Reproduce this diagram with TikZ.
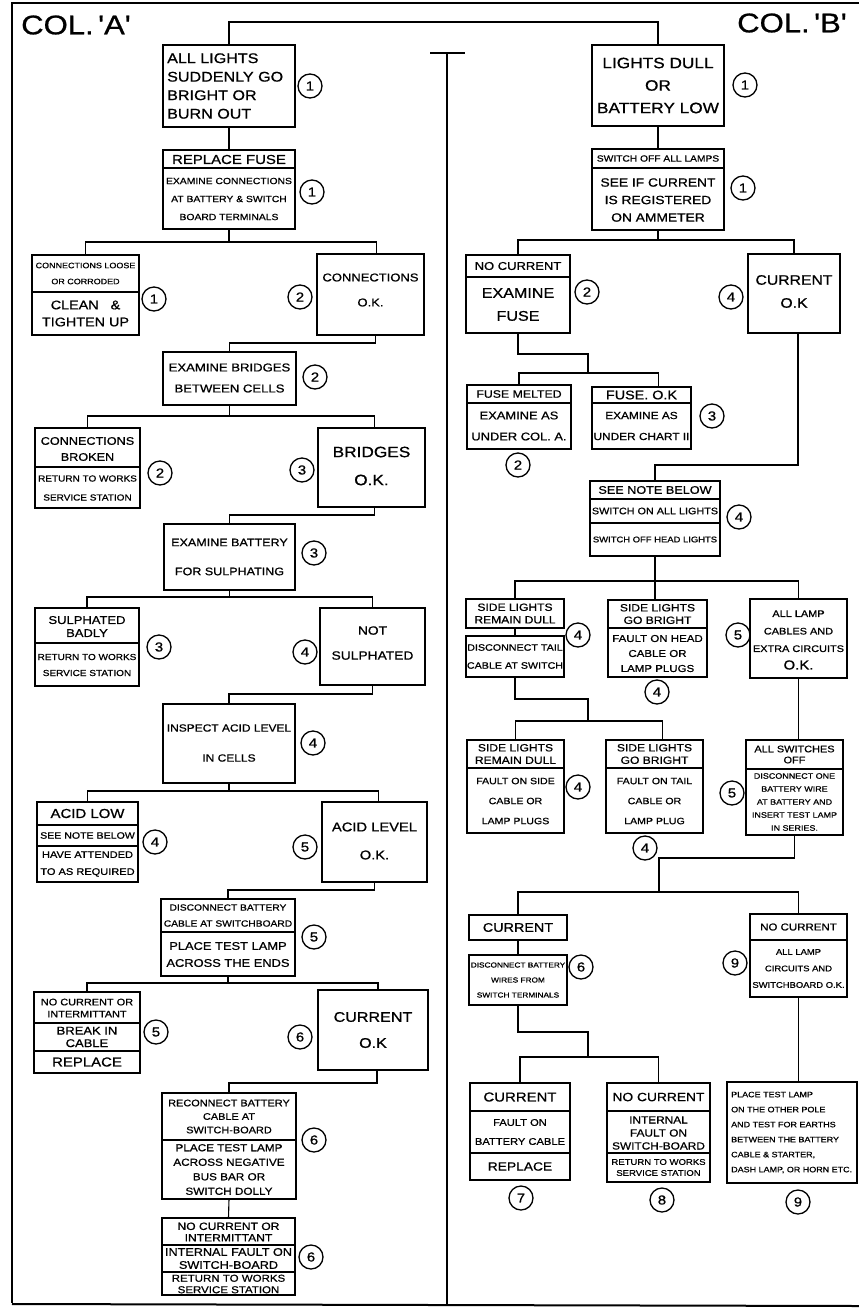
\documentclass[tikz,border=0pt]{standalone}
\usepackage{fontspec}
\newfontfamily\hand[FakeStretch=1.15,FakeBold=0.8]{Liberation Sans}
\usetikzlibrary{calc}
\newcommand\hf[2]{\hand\fontsize{#1}{#2}\selectfont}
\newcommand\mkbox[5]{\node[boxst, minimum width={#4-#2}, minimum height={#5-#3}] (#1) at ({(#2+#4)/2},{(#3+#5)/2}) {};}
\newcommand\divl[2]{\draw[divst] (#1.west |- 0,#2) -- (#1.east |- 0,#2);}
\begin{document}
\begin{tikzpicture}[x=1pt,y=-1pt,
 boxst/.style={draw, line width=1.5pt, inner sep=0pt, outer sep=0pt},
 divst/.style={line width=1.2pt},
 conn/.style={line width=1.1pt},
 frame/.style={line width=2pt},
 txt/.style={inner sep=0pt, align=center},
 txl/.style={inner sep=0pt, align=left, anchor=west},
 num/.style={draw, circle, line width=1.3pt, minimum size=24pt, inner sep=0pt, font=\hf{13}{13}}]
\fill[white] (0,0) rectangle (859,1312);
\useasboundingbox (0,0) rectangle (859,1312);

% frame
\draw[frame] (12,1303) -- (12,3) -- (859,3);
\draw[frame] (12,1304) -- (859,1306);
\draw[frame] (447,1304) -- (447,53);
\draw[frame] (430,53) -- (465,53);

\node[txt, font=\hf{27}{27}] (colA) at (76,25) {COL.\,'A'};
\node[txt, font=\hf{27}{27}] (colB) at (792,23) {COL.\,'B'};

% ---------- column A ----------
\mkbox{a1}{163}{45}{295}{127}
\node[txl, font=\hf{14}{18.5}] (a1t) at (167,86) {ALL LIGHTS\\SUDDENLY GO\\BRIGHT OR\\BURN OUT};
\node[num] (n1) at (310,86) {1};

\mkbox{a2}{163}{150}{295}{229} \divl{a2}{168}
\node[txt, font=\hf{13}{13}] (a2t1) at (229,159.5) {REPLACE FUSE};
\node[txt, font=\hf{9}{18}] (a2t2) at (229,199) {EXAMINE CONNECTIONS\\AT BATTERY \& SWITCH\\BOARD TERMINALS};
\node[num] (n2) at (312,192) {1};

\mkbox{a3l}{32}{255}{139}{335} \divl{a3l}{292}
\node[txt, font=\hf{7.8}{16}] (a3lt1) at (85.5,273.5) {CONNECTIONS LOOSE\\OR CORRODED};
\node[txt, font=\hf{12.5}{17}] (a3lt2) at (85.5,313.5) {CLEAN \ \ \&\\TIGHTEN UP};
\node[num] (n3) at (154,299) {1};

\mkbox{a3r}{317}{254}{424}{335}
\node[txt, font=\hf{11.3}{25}] (a3rt) at (370.5,290) {CONNECTIONS\\O.K.};
\node[num] (n4) at (300,297) {2};

\mkbox{a4}{163}{352}{296}{405}
\node[txt, font=\hf{11.4}{21}] (a4t) at (229.5,378) {EXAMINE BRIDGES\\BETWEEN CELLS};
\node[num] (n5) at (315,377) {2};

\mkbox{a5l}{35}{428}{140}{508} \divl{a5l}{467}
\node[txt, font=\hf{11}{16}] (a5lt1) at (87.5,449) {CONNECTIONS\\BROKEN};
\node[txt, font=\hf{8.7}{19}] (a5lt2) at (87.5,488) {RETURN TO WORKS\\SERVICE STATION};
\node[num] (n6) at (160,473) {2};

\mkbox{a5r}{318}{428}{425}{507}
\node[txt, font=\hf{15}{28}] (a5rt) at (371.5,466) {BRIDGES\\O.K.};
\node[num] (n7) at (302,470) {3};

\mkbox{a6}{164}{524}{295}{590}
\node[txt, font=\hf{10.9}{29}] (a6t) at (229.5,557) {EXAMINE BATTERY\\FOR SULPHATING};
\node[num] (n8) at (314,553) {3};

\mkbox{a7l}{35}{608}{139}{686} \divl{a7l}{643}
\node[txt, font=\hf{11.3}{13}] (a7lt1) at (87,626.5) {SULPHATED\\BADLY};
\node[txt, font=\hf{8.7}{16}] (a7lt2) at (87,665) {RETURN TO WORKS\\SERVICE STATION};
\node[num] (n9) at (159,647) {3};

\mkbox{a7r}{320}{608}{425}{685}
\node[txt, font=\hf{12}{25}] (a7rt) at (372.5,643) {NOT\\SULPHATED};
\node[num] (n10) at (305,652) {4};

\mkbox{a8}{163}{704}{295}{783}
\node[txt, font=\hf{10.4}{30}] (a8t) at (229,743) {INSPECT ACID LEVEL\\IN CELLS};
\node[num] (n11) at (313,743) {4};

\mkbox{a9l}{37}{802}{138}{882} \divl{a9l}{825} \divl{a9l}{846}
\node[txt, font=\hf{13}{13}] (a9lt1) at (87.5,813.5) {ACID LOW};
\node[txt, font=\hf{9.2}{10}] (a9lt2) at (87.5,835.5) {SEE NOTE BELOW};
\node[txt, font=\hf{9.6}{17}] (a9lt3) at (87.5,864) {HAVE ATTENDED\\TO AS REQUIRED};
\node[num] (n12) at (155,842) {4};

\mkbox{a9r}{322}{802}{427}{882}
\node[txt, font=\hf{12.8}{28}] (a9rt) at (374.5,841) {ACID LEVEL\\O.K.};
\node[num] (n13) at (305,847) {5};

\mkbox{a10}{161}{899}{295}{976} \divl{a10}{932}
\node[txt, font=\hf{8.9}{16}] (a10t1) at (228,915.5) {DISCONNECT BATTERY\\CABLE AT SWITCHBOARD};
\node[txt, font=\hf{11.2}{17}] (a10t2) at (228,954.5) {PLACE TEST LAMP\\ACROSS THE ENDS};
\node[num] (n14) at (314,937) {5};

\mkbox{a11l}{34}{992}{140}{1073} \divl{a11l}{1023} \divl{a11l}{1051}
\node[txt, font=\hf{9.5}{12}] (a11lt1) at (87,1008) {NO CURRENT OR\\INTERMITTANT};
\node[txt, font=\hf{11.3}{12.5}] (a11lt2) at (87,1037) {BREAK IN\\CABLE};
\node[txt, font=\hf{13}{13}] (a11lt3) at (87,1062) {REPLACE};
\node[num] (n15) at (156,1032) {5};

\mkbox{a11r}{318}{990}{428}{1070}
\node[txt, font=\hf{14}{26}] (a11rt) at (373,1030) {CURRENT\\O.K};
\node[num] (n16) at (300,1037) {6};

\mkbox{a12}{162}{1093}{296}{1199} \divl{a12}{1140}
\node[txt, font=\hf{9.5}{13.5}] (a12t1) at (229,1116.5) {RECONNECT BATTERY\\CABLE AT\\SWITCH-BOARD};
\node[txt, font=\hf{10.2}{14.5}] (a12t2) at (229,1169.5) {PLACE TEST LAMP\\ACROSS NEGATIVE\\BUS BAR OR\\SWITCH DOLLY};
\node[num] (n17) at (314,1140) {6};

\mkbox{a13}{162}{1218}{295}{1295} \divl{a13}{1245} \divl{a13}{1272}
\node[txt, font=\hf{10.5}{11.5}] (a13t1) at (228.5,1232) {NO CURRENT OR\\INTERMITTANT};
\node[txt, font=\hf{11}{13}] (a13t2) at (228.5,1258.5) {INTERNAL FAULT ON\\SWITCH-BOARD};
\node[txt, font=\hf{10}{11.5}] (a13t3) at (228.5,1284) {RETURN TO WORKS\\SERVICE STATION};
\node[num] (n18) at (311,1257) {6};

% ---------- column B ----------
\mkbox{b1}{592}{45}{724}{126}
\node[txt, font=\hf{15}{22.5}] (b1t) at (658,85.5) {LIGHTS DULL\\OR\\BATTERY LOW};
\node[num] (n19) at (745,85) {1};

\mkbox{b2}{592}{149}{724}{230} \divl{b2}{168}
\node[txt, font=\hf{8.9}{9}] (b2t1) at (658,158.5) {SWITCH OFF ALL LAMPS};
\node[txt, font=\hf{12}{17.5}] (b2t2) at (658,200) {SEE IF CURRENT\\IS REGISTERED\\ON AMMETER};
\node[num] (n20) at (743,188) {1};

\mkbox{b3l}{466}{255}{570}{333} \divl{b3l}{277}
\node[txt, font=\hf{11.3}{11}] (b3lt1) at (518,266) {NO CURRENT};
\node[txt, font=\hf{14}{23}] (b3lt2) at (518,304.5) {EXAMINE\\FUSE};
\node[num] (n21) at (587,292) {2};

\mkbox{b3r}{748}{254}{840}{333}
\node[txt, font=\hf{13.7}{23}] (b3rt) at (794,291.5) {CURRENT\\O.K};
\node[num] (n22) at (731,297) {4};

\mkbox{b4l}{467}{385}{571}{449} \divl{b4l}{403}
\node[txt, font=\hf{10.7}{11}] (b4lt1) at (519,394) {FUSE MELTED};
\node[txt, font=\hf{11.2}{21}] (b4lt2) at (519,426) {EXAMINE AS\\UNDER COL. A.};
\node[num] (n23) at (518,465) {2};

\mkbox{b4r}{592}{387}{691}{449} \divl{b4r}{403}
\node[txt, font=\hf{12.5}{12}] (b4rt1) at (641.5,395) {FUSE.\ O.K};
\node[txt, font=\hf{10.3}{21}] (b4rt2) at (641.5,426) {EXAMINE AS\\UNDER CHART II};
\node[num] (n24) at (712,416) {3};

\mkbox{b5}{590}{481}{720}{556} \divl{b5}{499} \divl{b5}{523}
\node[txt, font=\hf{11}{11}] (b5t1) at (655,490) {SEE NOTE BELOW};
\node[txt, font=\hf{9.4}{9}] (b5t2) at (655,511) {SWITCH ON ALL LIGHTS};
\node[txt, font=\hf{8.2}{9}] (b5t3) at (655,539.5) {SWITCH OFF HEAD LIGHTS};
\node[num] (n25) at (739,517) {4};

\mkbox{b6lt}{466}{599}{564}{628}
\node[txt, font=\hf{10.5}{12.5}] (b6ltt) at (515,613.5) {SIDE LIGHTS\\REMAIN DULL};
\mkbox{b6lb}{466}{636}{564}{677}
\node[txt, font=\hf{9.3}{18}] (b6lbt) at (515,656.5) {DISCONNECT TAIL\\CABLE AT SWITCH};
\node[num] (n26) at (578,635) {4};

\mkbox{b6m}{608}{600}{707}{677} \divl{b6m}{628}
\node[txt, font=\hf{10.5}{12.5}] (b6mt1) at (657.5,614) {SIDE LIGHTS\\GO BRIGHT};
\node[txt, font=\hf{10}{15}] (b6mt2) at (657.5,653.5) {FAULT ON HEAD\\CABLE OR\\LAMP PLUGS};
\node[num] (n27) at (657,692) {4};

\mkbox{b6r}{750}{599}{847}{678}
\node[txt, font=\hf{9.5}{17.5}] (b6rt) at (798.5,640) {ALL LAMP\\CABLES AND\\EXTRA CIRCUITS\\{\fontsize{13}{17.5}\selectfont O.K.}};
\node[num] (n28) at (738,635) {5};

\mkbox{b7l}{467}{740}{564}{833} \divl{b7l}{768}
\node[txt, font=\hf{10.5}{12.5}] (b7lt1) at (515.5,754) {SIDE LIGHTS\\REMAIN DULL};
\node[txt, font=\hf{9.2}{20}] (b7lt2) at (515.5,801) {FAULT ON SIDE\\CABLE OR\\LAMP PLUGS};
\node[num] (n29) at (578,787) {4};

\mkbox{b7m}{606}{740}{703}{833} \divl{b7m}{768}
\node[txt, font=\hf{10.5}{12.5}] (b7mt1) at (654.5,754) {SIDE LIGHTS\\GO BRIGHT};
\node[txt, font=\hf{9.2}{20}] (b7mt2) at (654.5,801) {FAULT ON TAIL\\CABLE OR\\LAMP PLUG};
\node[num] (n30) at (645,848) {4};

\mkbox{b7r}{746}{740}{843}{835} \divl{b7r}{769}
\node[txt, font=\hf{9.5}{11}] (b7rt1) at (794.5,754.5) {ALL SWITCHES\\OFF};
\node[txt, font=\hf{7.8}{13}] (b7rt2) at (794.5,802) {DISCONNECT ONE\\BATTERY WIRE\\AT BATTERY AND\\INSERT TEST LAMP\\IN SERIES.};
\node[num] (n31) at (732,793) {5};

\mkbox{b8l}{469}{915}{567}{940}
\node[txt, font=\hf{12.5}{12}] (b8lt) at (518,927.5) {CURRENT};
\mkbox{b8l2}{469}{955}{567}{1005}
\node[txt, font=\hf{7.2}{15}] (b8l2t) at (518,980) {DISCONNECT BATTERY\\WIRES FROM\\SWITCH TERMINALS};
\node[num] (n32) at (581,967) {6};

\mkbox{b8r}{750}{914}{847}{997} \divl{b8r}{940}
\node[txt, font=\hf{10}{11}] (b8rt1) at (798.5,927) {NO CURRENT};
\node[txt, font=\hf{8.2}{16.5}] (b8rt2) at (798.5,968.5) {ALL LAMP\\CIRCUITS AND\\SWITCHBOARD O.K.};
\node[num] (n33) at (735,963) {9};

\mkbox{b9l}{470}{1083}{570}{1180} \divl{b9l}{1111} \divl{b9l}{1153}
\node[txt, font=\hf{13}{13}] (b9lt1) at (520,1097) {CURRENT};
\node[txt, font=\hf{9.7}{19}] (b9lt2) at (520,1132) {FAULT ON\\BATTERY CABLE};
\node[txt, font=\hf{12}{12}] (b9lt3) at (520,1166.5) {REPLACE};
\node[num] (n34) at (521,1198) {7};

\mkbox{b9m}{607}{1083}{710}{1182} \divl{b9m}{1111} \divl{b9m}{1153}
\node[txt, font=\hf{12}{12}] (b9mt1) at (658.5,1097) {NO CURRENT};
\node[txt, font=\hf{10.3}{13}] (b9mt2) at (658.5,1133) {INTERNAL\\FAULT ON\\SWITCH-BOARD};
\node[txt, font=\hf{8.3}{11}] (b9mt3) at (658.5,1167.5) {RETURN TO WORKS\\SERVICE STATION};
\node[num] (n35) at (662,1200) {8};

\mkbox{b9r}{727}{1082}{857}{1183}
\node[txl, font=\hf{7.8}{15}] (b9rt) at (731,1132.5) {PLACE TEST LAMP\\ON THE OTHER POLE\\AND TEST FOR EARTHS\\BETWEEN THE BATTERY\\CABLE \& STARTER,\\DASH LAMP, OR HORN ETC.};
\node[num] (n36) at (798,1202) {9};

% ---------- connectors column A ----------
\draw[conn] (a1.north) -- ++(0,-23) -| (b1.north);
\draw[conn] (a1.south) -- (a2.north);
\draw[conn] (a2.south) -- ++(0,13) coordinate (j1);
\draw[conn] (a3l.north) |- (j1) -| ($(a3r.north)+(6,0)$);
\draw[conn] ($(a3r.south)+(5,0)$) -- ++(0,8) -| (a4.north);
\draw[conn] (a4.south) -- ++(0,11) coordinate (j2);
\draw[conn] (a5l.north) |- (j2) -| ($(a5r.north)+(3,0)$);
\draw[conn] ($(a5r.south)+(3,0)$) -- ++(0,8) -| (a6.north);
\draw[conn] (a6.south) -- ++(0,7) coordinate (j3);
\draw[conn] (a7l.north) |- (j3) -| (a7r.north);
\draw[conn] (a7r.south) -- ++(0,9) -| (a8.north);
\draw[conn] (a8.south) -- ++(0,8) coordinate (j4);
\draw[conn] (a9l.north) |- (j4) -| ($(a9r.north)+(4,0)$);
\draw[conn] (a9r.south) -- ++(0,8) -| (a10.north);
\draw[conn] (a10.south) -- ++(0,7) coordinate (j5);
\draw[conn] (a11l.north) |- (j5) -| ($(a11r.north)+(5,0)$);
\draw[conn] ($(a11r.south)+(4,0)$) -- ++(0,13) -| (a12.north);
\draw[conn] (a12.south) -- (a13.north);

% ---------- connectors column B ----------
\coordinate (k2) at (588,373);
\coordinate (k4) at (588,721);
\coordinate (k5) at (659,892);
\coordinate (k6) at (588,1057);
\draw[conn] (b1.south) -- (b2.north);
\draw[conn] (b2.south) -- ++(0,10) coordinate (k1);
\draw[conn] (b3l.north) |- (k1) -| (b3r.north);
\draw[conn] (b3l.south) -- ++(0,21) -| (k2);
\draw[conn] (b4l.north) |- (k2) -| ($(b4r.north)+(17,0)$);
\draw[conn] ($(b3r.south)+(4,0)$) -- ++(0,132) -| (b5.north);
\draw[conn] (b5.south) -- ++(0,25) coordinate (k3);
\draw[conn] (b6lt.north) |- (k3) -| (b6r.north);
\draw[conn] (k3) -- (k3 |- b6m.north);
\draw[conn] (b6lt.south) -- (b6lb.north);
\draw[conn] (b6lb.south) -- ++(0,22) -| (k4);
\draw[conn] (b7l.north) |- (k4) -| ($(b7m.north)+(8,0)$);
\draw[conn] (b6r.south) -- (b6r.south |- b7r.north);
\draw[conn] (b7r.south) -- ++(0,23) -| (k5);
\draw[conn] (b8l.north) |- (k5) -| (b8r.north);
\draw[conn] (b8l.south) -- (b8l2.north);
\draw[conn] (b8l2.south) -- ++(0,27) -| (k6);
\draw[conn] (b9l.north) |- (k6) -| (b9m.north);
\draw[conn] (b8r.south) -- (b8r.south |- b9r.north);
\end{tikzpicture}
\end{document}
